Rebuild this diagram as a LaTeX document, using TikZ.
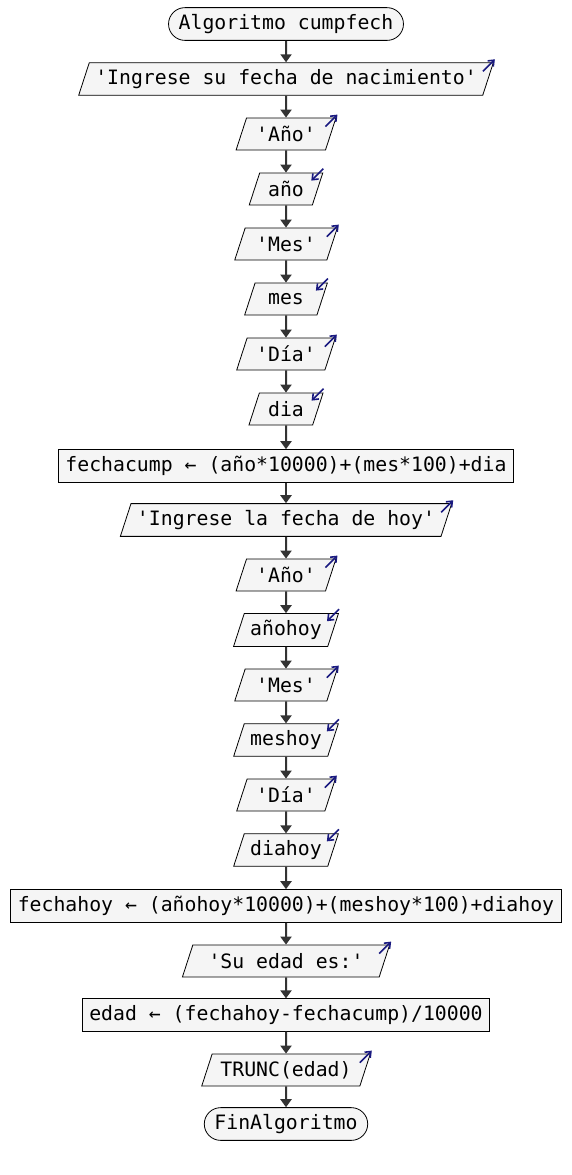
\documentclass[tikz,border=0pt]{standalone}
\usepackage{fontspec}
\setmonofont{DejaVu Sans Mono}
\usepackage{tikz}
\usetikzlibrary{shapes.geometric,shapes.misc}
\usetikzlibrary{arrows.meta}
\usetikzlibrary{calc}
\definecolor{boxfill}{HTML}{F5F5F5}
\definecolor{linegray}{HTML}{333333}
\definecolor{ioblue}{HTML}{1A1A80}
\newcommand{\chartfont}{\ttfamily\fontsize{9.9}{12}\selectfont}

\begin{document}
\begin{tikzpicture}[x=0.5pt,y=-0.5pt]
\tikzstyle{term}  = [rounded rectangle, draw, fill=boxfill, minimum height=14pt, inner xsep=3.5pt, font=\chartfont]
\tikzstyle{proc}  = [rectangle, draw, fill=boxfill, minimum height=15pt, inner xsep=3.5pt, font=\chartfont]
\tikzstyle{io}    = [trapezium, trapezium left angle=72, trapezium right angle=108, trapezium stretches=false, draw, fill=boxfill, minimum height=16pt, inner xsep=3pt, font=\chartfont]
\tikzstyle{flow}  = [draw=linegray, line width=1pt, -{Triangle[length=4pt,width=5.5pt]}]
\tikzstyle{iomark} = [draw=ioblue, line width=0.8pt, -{Straight Barb[length=2.5pt,width=4pt]}]
\useasboundingbox (0,0) rectangle (572,1175);
\node [term](start) at (286, 24) {Algoritmo cumpfech};
\node [io](w1) at (286, 79) {'Ingrese su fecha de nacimiento'};
\node [io](w2) at (286, 134) {'Año'};
\node [io](r1) at (286, 189) {año};
\node [io](w3) at (286, 244) {'Mes'};
\node [io](r2) at (286, 299) {mes};
\node [io](w4) at (286, 354) {'Día'};
\node [io](r3) at (286, 409) {dia};
\node [proc](a1) at (286, 466) {fechacump ← (año*10000)+(mes*100)+dia};
\node [io](w5) at (286, 520) {'Ingrese la fecha de hoy'};
\node [io](w6) at (286, 575) {'Año'};
\node [io](r4) at (286, 630) {añohoy};
\node [io](w7) at (286, 685) {'Mes'};
\node [io](r5) at (286, 740) {meshoy};
\node [io](w8) at (286, 795) {'Día'};
\node [io](r6) at (286, 850) {diahoy};
\node [proc](a2) at (286, 906) {fechahoy ← (añohoy*10000)+(meshoy*100)+diahoy};
\node [io](w9) at (286, 961) {'Su edad es:'};
\node [proc](a3) at (286, 1015) {edad ← (fechahoy-fechacump)/10000};
\node [io](w10) at (286, 1070) {TRUNC(edad)};
\node [term](stop) at (286, 1124) {FinAlgoritmo};
 %%Edges
\draw [flow] (start)--(w1);
\draw [flow] (w1)--(w2);
\draw [flow] (w2)--(r1);
\draw [flow] (r1)--(w3);
\draw [flow] (w3)--(r2);
\draw [flow] (r2)--(w4);
\draw [flow] (w4)--(r3);
\draw [flow] (r3)--(a1);
\draw [flow] (a1)--(w5);
\draw [flow] (w5)--(w6);
\draw [flow] (w6)--(r4);
\draw [flow] (r4)--(w7);
\draw [flow] (w7)--(r5);
\draw [flow] (r5)--(w8);
\draw [flow] (w8)--(r6);
\draw [flow] (r6)--(a2);
\draw [flow] (a2)--(w9);
\draw [flow] (w9)--(a3);
\draw [flow] (a3)--(w10);
\draw [flow] (w10)--(stop);
 %%In/out marks
\foreach \n in {w1,w2,w3,w4,w5,w6,w7,w8,w9,w10}
  \draw [iomark] ($(\n.top right corner)+(-11,9)$) -- ($(\n.top right corner)+(1,-3)$);
\foreach \n in {r1,r2,r3,r4,r5,r6}
  \draw [iomark] ($(\n.top right corner)+(0,-4)$) -- ($(\n.top right corner)+(-12,8)$);
\end{tikzpicture}
\end{document}
